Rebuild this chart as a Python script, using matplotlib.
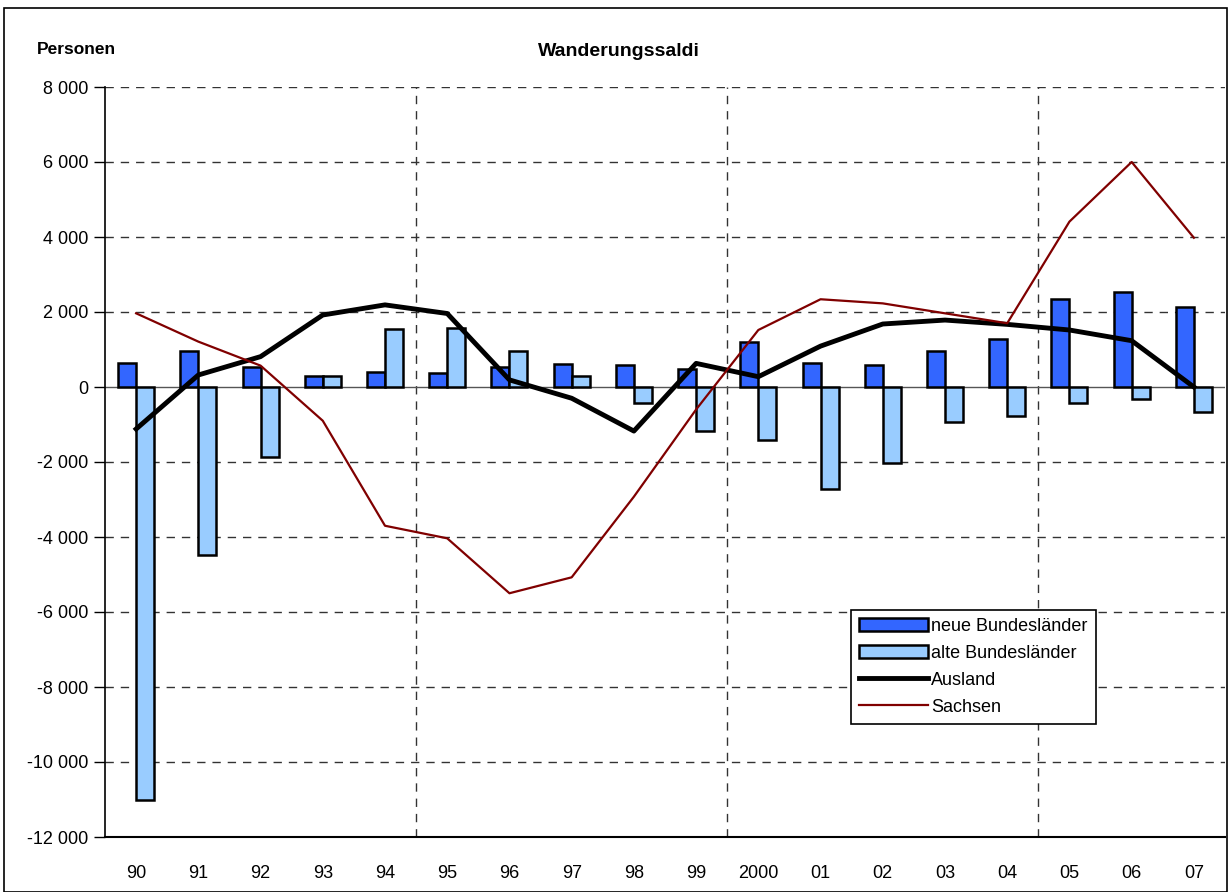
import matplotlib
matplotlib.use("Agg")
import matplotlib.pyplot as plt
import numpy as np
from matplotlib.patches import Rectangle

plt.rcParams['font.family'] = ['Liberation Sans Narrow', 'Liberation Sans', 'DejaVu Sans']

jahre = ['90', '91', '92', '93', '94', '95', '96', '97', '98', '99',
         '2000', '01', '02', '03', '04', '05', '06', '07']
neue_bl = [650, 960, 530, 290, 400, 380, 540, 610, 590, 480,
           1190, 630, 590, 960, 1270, 2340, 2525, 2125]
alte_bl = [-11000, -4480, -1870, 300, 1550, 1565, 960, 300, -435, -1165,
           -1405, -2710, -2035, -925, -775, -420, -330, -660]
ausland = [-1120, 320, 810, 1920, 2190, 1960, 190, -300, -1175, 630,
           275, 1090, 1680, 1785, 1670, 1520, 1235, 0]
sachsen = [1965, 1210, 570, -900, -3700, -4035, -5500, -5075, -2925, -600,
           1520, 2340, 2230, 1965, 1700, 4410, 6000, 3980]
y_ticks = [8000, 6000, 4000, 2000, 0, -2000, -4000, -6000, -8000, -10000, -12000]

fig = plt.figure(figsize=(12.29, 8.92), dpi=100)
ax = fig.add_axes([105 / 1229, 55 / 892, 1120 / 1229, 750 / 892])

x = np.arange(len(jahre))
w = 0.29
b1 = ax.bar(x - w / 2, neue_bl, w, color='#3366FF', edgecolor='black', linewidth=1.8,
            label='neue Bundesländer', zorder=3)
b2 = ax.bar(x + w / 2, alte_bl, w, color='#99CCFF', edgecolor='black', linewidth=1.8,
            label='alte Bundesländer', zorder=3)
l1, = ax.plot(x, ausland, color='black', linewidth=3.5, label='Ausland', zorder=4)
l2, = ax.plot(x, sachsen, color='#800000', linewidth=1.6, label='Sachsen', zorder=4)

ax.set_xlim(-0.5, len(jahre) - 0.5)
ax.set_ylim(-12000, 8000)
ax.set_yticks(y_ticks)
ax.set_yticklabels([f'{v:,}'.replace(',', ' ') for v in y_ticks])
ax.set_xticks(x)
ax.set_xticklabels(jahre)
ax.tick_params(axis='x', length=0, pad=20, labelsize=13)
ax.tick_params(axis='y', length=8, width=1, direction='out', labelsize=13, pad=4)

for v in y_ticks:
    if v != 0:
        ax.axhline(v, color='#333333', linestyle=(0, (6, 5)), linewidth=1, zorder=1)
ax.axhline(0, color='#555555', linewidth=1, zorder=2)
for xv in [4.5, 9.5, 14.5]:
    ax.axvline(xv, color='#333333', linestyle=(0, (6, 5)), linewidth=1, zorder=1)

ax.spines['top'].set_visible(False)
ax.spines['right'].set_visible(False)
ax.spines['left'].set_linewidth(1.2)
ax.spines['bottom'].set_linewidth(1.5)

leg = ax.legend([b1, b2, l1, l2],
                ['neue Bundesländer', 'alte Bundesländer', 'Ausland', 'Sachsen'],
                loc='upper left', bbox_to_anchor=(0.666, 0.303), fontsize=13,
                frameon=True, fancybox=False, edgecolor='black', framealpha=1,
                handlelength=3.8, handleheight=0.75, borderaxespad=0,
                labelspacing=0.55, handletextpad=0.2, borderpad=0.45)
leg.get_frame().set_linewidth(1.2)

fig.text(619 / 1229, 1 - 52 / 892, 'Wanderungssaldi', ha='center', va='center',
         fontsize=14, fontweight='bold')
fig.text(37 / 1229, 1 - 50 / 892, 'Personen', ha='left', va='center',
         fontsize=12.5, fontweight='bold')

fig.patches.append(Rectangle((4 / 1229, 0), 1 - 6 / 1229, 1 - 8 / 892,
                             transform=fig.transFigure, fill=False,
                             edgecolor='black', linewidth=1.2))

fig.savefig('out.png', dpi=100)
